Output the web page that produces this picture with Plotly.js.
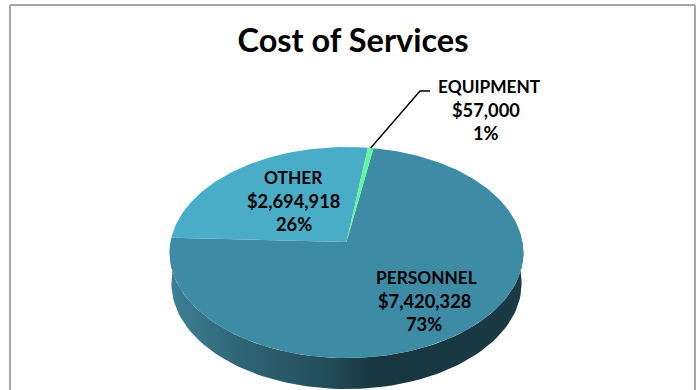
<!DOCTYPE html>
<html>
<head>
<meta charset="utf-8">
<script src="https://cdn.plot.ly/plotly-3.0.1.min.js"></script>
<style>html,body{margin:0;padding:0;background:#fff;overflow:hidden}</style>
</head>
<body>
<div id="chart" style="width:699px;height:390px"></div>
<script>
// Cost of services by category
const categories = ["PERSONNEL", "OTHER", "EQUIPMENT"];
const costs = [7420328, 2694918, 57000];
const percentLabels = ["73%", "26%", "1%"];
const sliceColors = ["#3e8ba6", "#4aadc8", "#62f79c"];
const chartTitle = "Cost of Services";

// Perspective pie: unit circle projected onto the page-sized axes
const pie = {cx: 346.5, cy: 242, a: 176, b: 104.5, tilt: 0.0995, depth: 31, startDeg: 177.7};
const total = costs.reduce((s, v) => s + v, 0);

function project(deg, yOffset, shrink) {
  const t = deg * Math.PI / 180, u = Math.cos(t), v = Math.sin(t), w = 1 + pie.tilt * v;
  return [pie.cx + shrink * pie.a * u / w, pie.cy + yOffset - pie.b * v / w];
}

// Clockwise sweep for each category, OTHER first, then EQUIPMENT, then PERSONNEL
const sweepOrder = [1, 2, 0];
const sweeps = {};
let angle = pie.startDeg;
sweepOrder.forEach(i => {
  const span = costs[i] / total * 360;
  sweeps[i] = [angle, angle - span];
  angle -= span;
});

function sliceTrace(i) {
  const [from, to] = sweeps[i];
  const xs = [pie.cx], ys = [pie.cy];
  const n = Math.max(2, Math.ceil(from - to));
  for (let k = 0; k <= n; k++) {
    const p = project(from + (to - from) * k / n, 0, 1);
    xs.push(p[0]); ys.push(p[1]);
  }
  xs.push(pie.cx); ys.push(pie.cy);
  return {x: xs, y: ys, type: "scatter", mode: "lines", fill: "toself",
          fillcolor: sliceColors[i], line: {width: 0, color: sliceColors[i]},
          hoverinfo: "skip", name: categories[i]};
}

// Side wall: the lower rim joined to the upper rim, shaded left to right
const wallX = [], wallY = [];
for (let d = 180; d <= 360; d += 2) { const p = project(d, pie.depth, 0.99); wallX.push(p[0]); wallY.push(p[1]); }
for (let d = 360; d >= 180; d -= 2) { const p = project(d, 0, 1); wallX.push(p[0]); wallY.push(p[1]); }
wallX.push(wallX[0]); wallY.push(wallY[0]);
const wall = {x: wallX, y: wallY, type: "scatter", mode: "lines", fill: "toself",
  line: {width: 0, color: "#1a3a44"}, hoverinfo: "skip",
  fillgradient: {type: "horizontal", colorscale: [
    [0, "#3f8095"], [0.2, "#2f6576"], [0.45, "#234c5a"], [0.58, "#17363f"], [1, "#1a3b45"]]}};

// Leader line from the small EQUIPMENT slice to its label
const eqMid = project((sweeps[2][0] + sweeps[2][1]) / 2, 0, 1);
const leader = {x: [eqMid[0], 420, 430], y: [eqMid[1], 91, 91], type: "scatter", mode: "lines",
  line: {color: "#000", width: 1.4}, hoverinfo: "skip"};

// Three-line data labels: name on top, then amount and share
const usd = v => "$" + v.toLocaleString("en-US");
const nameCenters = [426.5, 293, 489];
const valueCenters = [424, 293.5, 486];
const labelTops = [277, 177, 86];
const lineGap = 23.5;
const labelFont = size => ({family: "Lato, 'Open Sans', sans-serif", size, color: "#000", weight: 700});
const annotations = [];
categories.forEach((name, i) => {
  [name, usd(costs[i]), percentLabels[i]].forEach((txt, j) => {
    annotations.push({x: j === 0 ? nameCenters[i] : valueCenters[i], y: labelTops[i] + j * lineGap,
      xref: "x", yref: "y", text: txt, showarrow: false, xanchor: "center", yanchor: "middle",
      font: labelFont(j === 0 ? 17.3 : 18.3)});
  });
});

const border = {color: "#a6a6a6", width: 2};
const shapes = [
  {type: "line", xref: "x", yref: "y", x0: 10, y0: 5, x1: 695, y1: 5, line: border},
  {type: "line", xref: "x", yref: "y", x0: 10, y0: 5, x1: 10, y1: 390, line: border},
  {type: "line", xref: "x", yref: "y", x0: 695, y0: 5, x1: 695, y1: 390, line: border}
];

const layout = {
  width: 699, height: 390, margin: {l: 0, r: 0, t: 0, b: 0},
  paper_bgcolor: "#fff", plot_bgcolor: "#fff", showlegend: false,
  xaxis: {range: [0, 699], visible: false, fixedrange: true},
  yaxis: {range: [390, 0], visible: false, fixedrange: true},
  title: {text: chartTitle, x: 353 / 699, xanchor: "center", y: 1 - 41 / 390, yanchor: "middle",
          font: labelFont(32.5)},
  annotations, shapes
};

Plotly.newPlot("chart", [wall, sliceTrace(0), sliceTrace(1), sliceTrace(2), leader], layout,
  {displayModeBar: false, staticPlot: true});
</script>
</body>
</html>
